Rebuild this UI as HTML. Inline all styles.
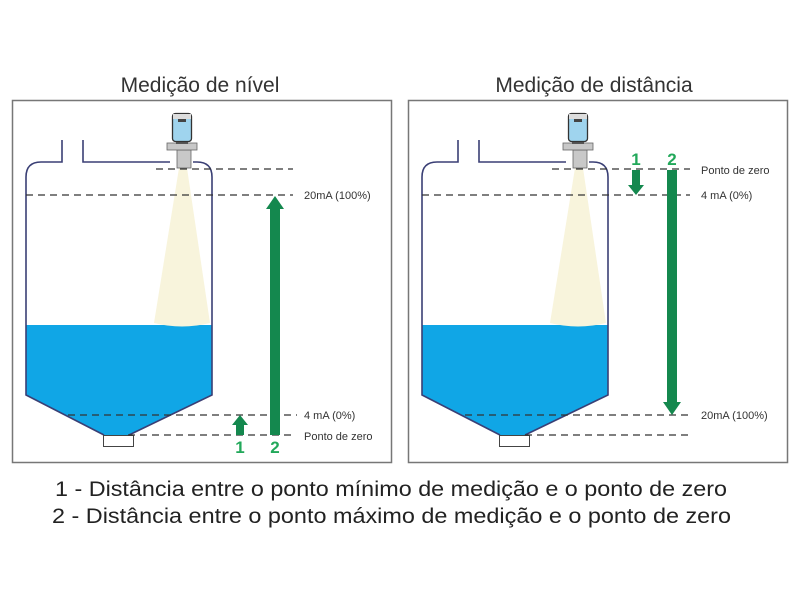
<!DOCTYPE html>
<html><head><meta charset="utf-8"><style>
html,body{margin:0;padding:0;background:#fff;width:800px;height:600px;overflow:hidden}
text{font-family:"Liberation Sans",sans-serif}
</style></head><body>
<svg width="800" height="600" viewBox="0 0 800 600" xmlns="http://www.w3.org/2000/svg">
<defs>
<g id="tank">
  <rect x="12.5" y="100.5" width="379" height="362" fill="#fff" stroke="#777" stroke-width="1.5"/>
  <!-- liquid -->
  <path d="M26 325 H212 V395 L129 435 H104 L26 395 Z" fill="#10a6e6"/>
  <!-- beam -->
  <path d="M179 168 L187 168 L210 323 Q182 330 154 323 Z" fill="#f8f4dc"/>
  <!-- tank outline -->
  <path d="M62 140 V162 H41 Q26 162 26 177 V395 L104 435 M129 435 L212 395 V177 Q212 162 197 162 H193 M170 162 H83 V140" fill="none" stroke="#3a3f75" stroke-width="1.6"/>
  <!-- outlet -->
  <rect x="103.5" y="435.5" width="30" height="11" fill="#fff" stroke="#444" stroke-width="1"/>
  <!-- sensor -->
  <rect x="177" y="150" width="14" height="18" fill="#c8c8c8" stroke="#666" stroke-width="0.8"/>
  <rect x="167" y="143" width="30" height="7" fill="#c8c8c8" stroke="#666" stroke-width="0.8"/>
  <rect x="176" y="139" width="12" height="5" fill="#555"/>
  <rect x="172.5" y="113.5" width="19" height="28" rx="3" fill="#9fd4ee" stroke="#333" stroke-width="1.3"/>
  <rect x="173" y="114" width="18" height="5" fill="#ddd"/>
  <rect x="178" y="119" width="8" height="3" fill="#444"/>
</g>
</defs>
<text x="200" y="92" font-size="21" text-anchor="middle" fill="#333">Medição de nível</text>
<text x="594" y="92" font-size="21" text-anchor="middle" fill="#333">Medição de distância</text>

<use href="#tank"/>
<use href="#tank" transform="translate(396,0)"/>

<g stroke="#333" stroke-width="1.3" stroke-dasharray="7,5" fill="none">
  <path d="M156 169 H293 M26 195 H293 M68 415 H297 M128 435 H293"/>
  <path d="M552 169 H690 M422 195 H690 M465 415 H693 M525 435 H690"/>
</g>
<g font-size="11" fill="#333">
  <text x="304" y="199">20mA (100%)</text>
  <text x="304" y="419">4 mA (0%)</text>
  <text x="304" y="440">Ponto de zero</text>
  <text x="701" y="174">Ponto de zero</text>
  <text x="701" y="199">4 mA (0%)</text>
  <text x="701" y="419">20mA (100%)</text>
</g>
<g fill="#14884e">
  <path d="M270 435 V209 H266 L275 196 L284 209 H280 V435 Z"/>
  <path d="M236 435 V425 H232 L240 415 L248 425 H244 V435 Z"/>
  <path d="M632 170 V185 H628 L636 195 L644 185 H640 V170 Z"/>
  <path d="M667 170 V402 H663 L672 415 L681 402 H677 V170 Z"/>
</g>
<g font-size="17" font-weight="bold" fill="#22a85a" text-anchor="middle">
  <text x="240" y="453">1</text>
  <text x="275" y="453">2</text>
  <text x="636" y="165">1</text>
  <text x="672" y="165">2</text>
</g>
<text x="55" y="496" font-size="21" fill="#222" textLength="672" lengthAdjust="spacingAndGlyphs">1 - Distância entre o ponto mínimo de medição e o ponto de zero</text>
<text x="52" y="523" font-size="21" fill="#222" textLength="679" lengthAdjust="spacingAndGlyphs">2 - Distância entre o ponto máximo de medição e o ponto de zero</text>
</svg>
</body></html>
